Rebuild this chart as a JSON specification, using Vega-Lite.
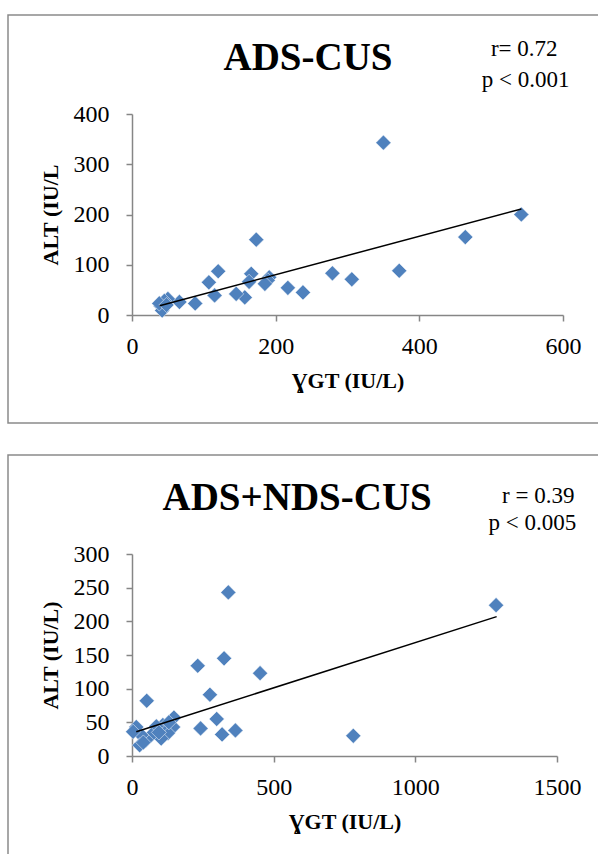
{
  "$schema": "https://vega.github.io/schema/vega-lite/v6.json",
  "padding": {"left": 7, "top": 14, "right": 0, "bottom": 0},
  "spacing": 30,
  "config": {
    "font": "Liberation Serif",
    "view": {"stroke": "#8a8a8a", "strokeWidth": 1.5},
    "axis": {
      "grid": false,
      "labelFlush": false,
      "labelOverlap": false,
      "domainColor": "#868686",
      "domainWidth": 1.5,
      "tickColor": "#868686",
      "tickWidth": 1.5,
      "tickSize": 6,
      "labelFont": "Liberation Serif",
      "labelFontSize": 24,
      "labelColor": "#000000",
      "titleFont": "Liberation Serif",
      "titleFontSize": 22,
      "titleFontWeight": "bold",
      "titleColor": "#000000"
    }
  },
  "datasets": {
    "top": [
      {"ggt": 350, "alt": 343}, {"ggt": 542, "alt": 200}, {"ggt": 464, "alt": 155}, {"ggt": 372, "alt": 88},
      {"ggt": 306, "alt": 71}, {"ggt": 279, "alt": 83}, {"ggt": 238, "alt": 45}, {"ggt": 217, "alt": 54},
      {"ggt": 173, "alt": 150}, {"ggt": 191, "alt": 75}, {"ggt": 189, "alt": 69}, {"ggt": 185, "alt": 62},
      {"ggt": 166, "alt": 82}, {"ggt": 163, "alt": 66}, {"ggt": 157, "alt": 35}, {"ggt": 145, "alt": 42},
      {"ggt": 120, "alt": 87}, {"ggt": 107, "alt": 65}, {"ggt": 115, "alt": 39}, {"ggt": 88, "alt": 23},
      {"ggt": 66, "alt": 26}, {"ggt": 50, "alt": 32}, {"ggt": 45, "alt": 28}, {"ggt": 40, "alt": 18},
      {"ggt": 42, "alt": 9}, {"ggt": 38, "alt": 23}, {"ggt": 48, "alt": 20}
    ],
    "topTrend": [{"ggt": 38.5, "alt": 18.5}, {"ggt": 542, "alt": 211}],
    "topText": [
      {"ggt": 245, "alt": 487, "label": "ADS-CUS", "kind": "head"},
      {"ggt": 546, "alt": 516, "label": "r= 0.72", "kind": "stat"},
      {"ggt": 548, "alt": 453, "label": "p < 0.001", "kind": "stat"}
    ],
    "bottom": [
      {"ggt": 340, "alt": 243}, {"ggt": 1285, "alt": 224}, {"ggt": 232, "alt": 134}, {"ggt": 325, "alt": 145},
      {"ggt": 452, "alt": 123}, {"ggt": 275, "alt": 91}, {"ggt": 52, "alt": 82}, {"ggt": 299, "alt": 55},
      {"ggt": 242, "alt": 41}, {"ggt": 318, "alt": 32}, {"ggt": 365, "alt": 38}, {"ggt": 781, "alt": 30},
      {"ggt": 148, "alt": 57}, {"ggt": 145, "alt": 43}, {"ggt": 127, "alt": 34}, {"ggt": 109, "alt": 46},
      {"ggt": 103, "alt": 26}, {"ggt": 86, "alt": 44}, {"ggt": 68, "alt": 31}, {"ggt": 50, "alt": 24},
      {"ggt": 33, "alt": 31}, {"ggt": 27, "alt": 16}, {"ggt": 15, "alt": 43}, {"ggt": 4, "alt": 36},
      {"ggt": 40, "alt": 20}, {"ggt": 95, "alt": 35}, {"ggt": 130, "alt": 50}
    ],
    "bottomTrend": [{"ggt": 15, "alt": 36}, {"ggt": 1287, "alt": 207}],
    "bottomText": [
      {"ggt": 583, "alt": 365, "label": "ADS+NDS-CUS", "kind": "head"},
      {"ggt": 1434, "alt": 376, "label": "r = 0.39", "kind": "stat"},
      {"ggt": 1413, "alt": 335, "label": "p < 0.005", "kind": "stat"}
    ]
  },
  "vconcat": [
    {
      "width": 596,
      "height": 408,
      "layer": [
        {
          "data": {"name": "top"},
          "mark": {"type": "point", "shape": "diamond", "filled": true, "size": 230, "color": "#4F81BD", "opacity": 1, "stroke": "#ffffff", "strokeWidth": 0.5},
          "encoding": {
            "x": {"field": "ggt", "type": "quantitative",
              "scale": {"domain": [0, 600], "range": [124, 555], "nice": false, "zero": false},
              "axis": {"values": [0, 200, 400, 600], "format": "d", "offset": -108, "title": "ƔGT (IU/L)", "labelPadding": 13, "titlePadding": 12}},
            "y": {"field": "alt", "type": "quantitative",
              "scale": {"domain": [0, 400], "range": [300, 99], "nice": false, "zero": false},
              "axis": {"values": [0, 100, 200, 300, 400], "format": "d", "offset": -124, "title": "ALT (IU/L", "labelPadding": 17, "titlePadding": 11}}
          }
        },
        {
          "data": {"name": "topTrend"},
          "mark": {"type": "line", "color": "#000000", "strokeWidth": 1.5},
          "encoding": {
            "x": {"field": "ggt", "type": "quantitative"},
            "y": {"field": "alt", "type": "quantitative"}
          }
        },
        {
          "data": {"name": "topText"},
          "transform": [{"filter": "datum.kind == 'head'"}],
          "mark": {"type": "text", "font": "Liberation Serif", "fontSize": 39, "fontWeight": "bold", "align": "center", "baseline": "alphabetic", "color": "#000000"},
          "encoding": {
            "x": {"field": "ggt", "type": "quantitative"},
            "y": {"field": "alt", "type": "quantitative"},
            "text": {"field": "label"}
          }
        },
        {
          "data": {"name": "topText"},
          "transform": [{"filter": "datum.kind == 'stat'"}],
          "mark": {"type": "text", "font": "Liberation Serif", "fontSize": 23, "align": "center", "baseline": "alphabetic", "color": "#000000"},
          "encoding": {
            "x": {"field": "ggt", "type": "quantitative"},
            "y": {"field": "alt", "type": "quantitative"},
            "text": {"field": "label"}
          }
        }
      ]
    },
    {
      "width": 596,
      "height": 410,
      "layer": [
        {
          "data": {"name": "bottom"},
          "mark": {"type": "point", "shape": "diamond", "filled": true, "size": 230, "color": "#4F81BD", "opacity": 1, "stroke": "#ffffff", "strokeWidth": 0.5},
          "encoding": {
            "x": {"field": "ggt", "type": "quantitative",
              "scale": {"domain": [0, 1500], "range": [124, 549], "nice": false, "zero": false},
              "axis": {"values": [0, 500, 1000, 1500], "format": "d", "offset": -109, "title": "ƔGT (IU/L)", "labelPadding": 13, "titlePadding": 12}},
            "y": {"field": "alt", "type": "quantitative",
              "scale": {"domain": [0, 300], "range": [301, 99], "nice": false, "zero": false},
              "axis": {"values": [0, 50, 100, 150, 200, 250, 300], "format": "d", "offset": -124, "title": "ALT (IU/L)", "labelPadding": 17, "titlePadding": 11}}
          }
        },
        {
          "data": {"name": "bottomTrend"},
          "mark": {"type": "line", "color": "#000000", "strokeWidth": 1.5},
          "encoding": {
            "x": {"field": "ggt", "type": "quantitative"},
            "y": {"field": "alt", "type": "quantitative"}
          }
        },
        {
          "data": {"name": "bottomText"},
          "transform": [{"filter": "datum.kind == 'head'"}],
          "mark": {"type": "text", "font": "Liberation Serif", "fontSize": 39, "fontWeight": "bold", "align": "center", "baseline": "alphabetic", "color": "#000000"},
          "encoding": {
            "x": {"field": "ggt", "type": "quantitative"},
            "y": {"field": "alt", "type": "quantitative"},
            "text": {"field": "label"}
          }
        },
        {
          "data": {"name": "bottomText"},
          "transform": [{"filter": "datum.kind == 'stat'"}],
          "mark": {"type": "text", "font": "Liberation Serif", "fontSize": 23, "align": "center", "baseline": "alphabetic", "color": "#000000"},
          "encoding": {
            "x": {"field": "ggt", "type": "quantitative"},
            "y": {"field": "alt", "type": "quantitative"},
            "text": {"field": "label"}
          }
        }
      ]
    }
  ]
}
